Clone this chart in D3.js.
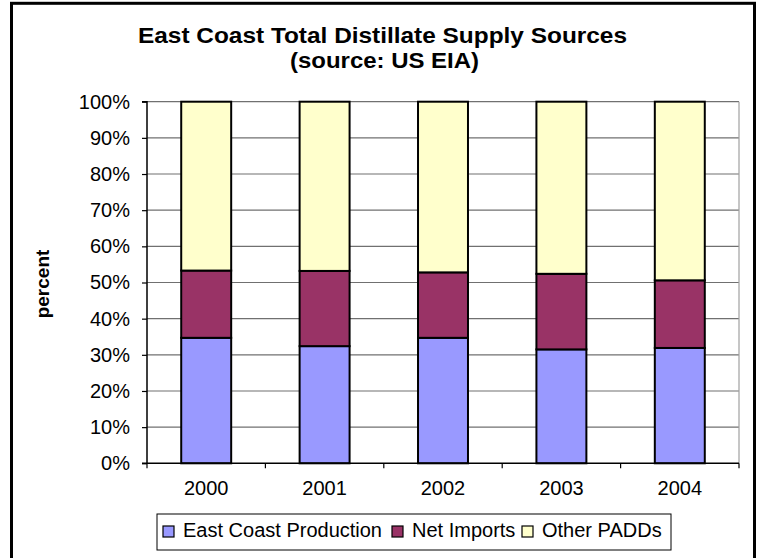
<!DOCTYPE html>
<html><head><meta charset="utf-8">
<script src="https://cdn.jsdelivr.net/npm/d3@7"></script>
<style>body{margin:0;background:#fff;} svg{display:block;font-family:"Liberation Sans",Arial,sans-serif;}</style>
</head><body><svg id="c" width="757" height="558"></svg>
<script>
const years = ["2000","2001","2002","2003","2004"];
const seriesNames = ["East Coast Production","Net Imports","Other PADDs"];
const eastCoastProduction = [34.7, 32.4, 34.7, 31.5, 31.9];
const netImports = [18.6, 20.8, 18.1, 20.9, 18.7];
const otherPADDs = [46.7, 46.8, 47.2, 47.6, 49.4];
const yTicks = [0,10,20,30,40,50,60,70,80,90,100];
const colors = ["#9999FF","#993366","#FFFFCC"];

const svg = d3.select("#c");
const rows = years.map((y,i)=>({year:y,"East Coast Production":eastCoastProduction[i],"Net Imports":netImports[i],"Other PADDs":otherPADDs[i]}));
const stacked = d3.stack().keys(seriesNames)(rows);

const L=147, R=739, T=101.7, B=463.3;
const x = d3.scaleBand().domain(years).range([L,R]).paddingInner(0.578).paddingOuter(0.289);
const xb = d3.scaleBand().domain(years).range([L,R]);
const y = d3.scaleLinear().domain([0,100]).range([B,T]);

// outer frame
svg.append("rect").attr("x",11.5).attr("y",3.3).attr("width",743).attr("height",620)
  .attr("fill","none").attr("stroke","#000").attr("stroke-width",3);

// title
svg.append("text").attr("x",382.5).attr("y",43.3).attr("text-anchor","middle")
  .attr("font-size",22).attr("font-weight","bold").attr("textLength",489).attr("lengthAdjust","spacingAndGlyphs")
  .text("East Coast Total Distillate Supply Sources");
svg.append("text").attr("x",384.5).attr("y",67.7).attr("text-anchor","middle")
  .attr("font-size",22).attr("font-weight","bold").attr("textLength",189).attr("lengthAdjust","spacingAndGlyphs")
  .text("(source: US EIA)");

// gridlines
svg.append("g").selectAll("line").data(yTicks.filter(d=>d>0)).join("line")
  .attr("x1",L).attr("x2",R).attr("y1",d=>y(d)).attr("y2",d=>y(d))
  .attr("stroke","#707070").attr("stroke-width",1.2);
// plot right border
svg.append("line").attr("x1",R).attr("x2",R).attr("y1",T).attr("y2",B).attr("stroke","#a0a0a0").attr("stroke-width",1.2);

// bars
svg.append("g").selectAll("g").data(stacked).join("g")
  .attr("fill",(d,i)=>colors[i])
  .selectAll("rect").data(d=>d).join("rect")
  .attr("x",d=>x(d.data.year)).attr("width",x.bandwidth())
  .attr("y",d=>y(d[1])).attr("height",d=>y(d[0])-y(d[1]))
  .attr("stroke","#000").attr("stroke-width",2);

// y axis
const yAxis = d3.axisLeft(y).tickValues(yTicks).tickFormat(d=>d+"%").tickSize(5).tickPadding(12);
const gy = svg.append("g").attr("transform",`translate(${L},0)`).call(yAxis);
gy.select(".domain").attr("stroke","#000").attr("stroke-width",1.5).attr("d",`M-5,${T}H0V${B}H-5`);
gy.selectAll(".tick line").attr("stroke","#000").attr("stroke-width",1.2);
gy.selectAll("text").attr("font-size",20).attr("fill","#000").attr("font-family","Liberation Sans, Arial, sans-serif");

// x axis
const gx = svg.append("g").attr("transform",`translate(0,${B})`);
gx.append("line").attr("x1",L).attr("x2",R).attr("y1",0).attr("y2",0).attr("stroke","#000").attr("stroke-width",1.5);
const bounds = years.map(d=>xb(d)).concat([R]);
gx.selectAll("line.t").data(bounds).join("line").attr("class","t")
  .attr("x1",d=>d).attr("x2",d=>d).attr("y1",0).attr("y2",5).attr("stroke","#000").attr("stroke-width",1.2);
gx.selectAll("text").data(years).join("text")
  .attr("x",d=>x(d)+x.bandwidth()/2).attr("y",31.7).attr("text-anchor","middle")
  .attr("font-size",20).text(d=>d);

// y label
svg.append("text").attr("transform","translate(49,284) rotate(-90)").attr("text-anchor","middle")
  .attr("font-size",19).attr("font-weight","bold").text("percent");

// legend
svg.append("rect").attr("x",157).attr("y",514).attr("width",514).attr("height",36)
  .attr("fill","#fff").attr("stroke","#000").attr("stroke-width",1);
const legX = [163, 392, 522];
const lg = svg.append("g").selectAll("g").data(seriesNames).join("g")
  .attr("transform",(d,i)=>`translate(${legX[i]},0)`);
lg.append("rect").attr("x",0).attr("y",526).attr("width",11).attr("height",11)
  .attr("fill",(d,i)=>colors[i]).attr("stroke","#000").attr("stroke-width",1.2);
lg.append("text").attr("x",20).attr("y",537).attr("font-size",20).text(d=>d);
</script></body></html>
